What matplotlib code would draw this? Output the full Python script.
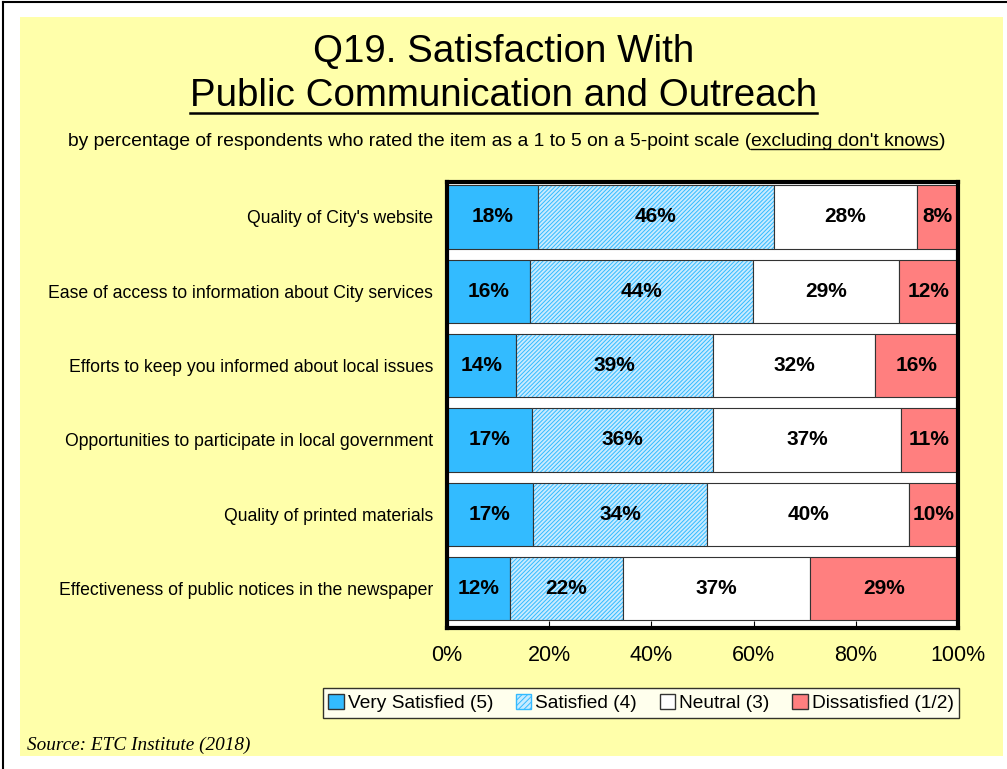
import numpy as np
import matplotlib.pyplot as plt
from matplotlib.patches import Rectangle, Patch

plt.rcParams['font.family'] = ['Liberation Sans', 'DejaVu Sans']

# Datos
items = ["Quality of City's website",
         "Ease of access to information about City services",
         "Efforts to keep you informed about local issues",
         "Opportunities to participate in local government",
         "Quality of printed materials",
         "Effectiveness of public notices in the newspaper"]
very_satisfied = [17.8, 16.2, 13.5, 16.6, 16.8, 12.3]
satisfied = [46.2, 43.6, 38.6, 35.5, 34.1, 22.1]
neutral = [28.0, 28.7, 31.7, 36.7, 39.5, 36.6]
dissatisfied = [8.0, 11.5, 16.2, 11.2, 9.6, 29.0]
labels_vs = [18, 16, 14, 17, 17, 12]
labels_s = [46, 44, 39, 36, 34, 22]
labels_n = [28, 29, 32, 37, 40, 37]
labels_d = [8, 12, 16, 11, 10, 29]
series_names = ['Very Satisfied (5)', 'Satisfied (4)', 'Neutral (3)', 'Dissatisfied (1/2)']

yellow = '#FFFFAA'
blue = '#33BBFF'
light_blue = '#C8EBFF'
red = '#FF7F7F'

fig = plt.figure(figsize=(10.07, 7.69), dpi=100)
fig.patch.set_facecolor('white')

# Fondo amarillo y borde
fig.patches.append(Rectangle((20/1007, 1 - 756/769), 983/1007, 739/769,
                             transform=fig.transFigure, facecolor=yellow,
                             edgecolor='none', zorder=-10))
fig.add_artist(plt.Line2D([3/1007, 3/1007], [0, 1 - 1.5/769], color='black', lw=1.5))
fig.add_artist(plt.Line2D([3/1007, 1], [1 - 1.5/769, 1 - 1.5/769], color='black', lw=1.5))

ax = fig.add_axes([447/1007, 1 - 628/769, 511/1007, 446/769])
ax.set_zorder(5)
ax.set_facecolor('white')

y = np.arange(len(items))
h = 0.85
vs = np.array(very_satisfied)
s = np.array(satisfied)
n = np.array(neutral)
d = np.array(dissatisfied)

plt.rcParams['hatch.linewidth'] = 0.7
ax.barh(y, vs, height=h, color=blue, edgecolor='#333333', lw=0.8)
ax.barh(y, s, left=vs, height=h, color=light_blue, edgecolor=blue, lw=0, hatch='////////')
ax.barh(y, s, left=vs, height=h, color='none', edgecolor='#333333', lw=0.8)
ax.barh(y, n, left=vs + s, height=h, color='white', edgecolor='#333333', lw=0.8)
ax.barh(y, d, left=vs + s + n, height=h, color=red, edgecolor='#333333', lw=0.8)

lefts = [np.zeros(len(items)), vs, vs + s, vs + s + n]
for vals, lab, left in zip([vs, s, n, d], [labels_vs, labels_s, labels_n, labels_d], lefts):
    for i in range(len(items)):
        ax.text(left[i] + vals[i] / 2, y[i], f'{lab[i]}%', ha='center', va='center',
                fontsize=15, fontweight='bold')

ax.set_xlim(0, 100)
ax.set_ylim(len(items) - 0.47, -0.47)
ax.set_xticks([0, 20, 40, 60, 80, 100])
ax.set_xticklabels(['0%', '20%', '40%', '60%', '80%', '100%'], fontsize=15.5)
ax.tick_params(axis='x', direction='in', length=5, pad=12)
ax.set_yticks(y)
ax.set_yticklabels(items, fontsize=12.7)
ax.tick_params(axis='y', length=0, pad=10)
for sp in ax.spines.values():
    sp.set_linewidth(3)
    sp.set_color('black')

# Títulos
fig.text(0.5, 1 - 52/769, 'Q19. Satisfaction With', ha='center', va='center', fontsize=27.7)
t2 = fig.text(0.5, 1 - 96/769, 'Public Communication and Outreach', ha='center',
              va='center', fontsize=27.7)
sub1 = fig.text(68/1007, 1 - 142/769,
                'by percentage of respondents who rated the item as a 1 to 5 on a 5-point scale (',
                ha='left', va='center', fontsize=13.9)
fig.canvas.draw()
r = fig.canvas.get_renderer()
bb1 = sub1.get_window_extent(r)
sub2 = fig.text(bb1.x1 / fig.bbox.width, 1 - 142/769, "excluding don't knows",
                ha='left', va='center', fontsize=13.9)
bb2 = sub2.get_window_extent(r)
fig.text(bb2.x1 / fig.bbox.width, 1 - 142/769, ')', ha='left', va='center', fontsize=13.9)

def underline(bb, yoff, lw):
    yy = (bb.y0 + yoff) / fig.bbox.height
    fig.add_artist(plt.Line2D([bb.x0 / fig.bbox.width, bb.x1 / fig.bbox.width], [yy, yy],
                              color='black', lw=lw))

underline(t2.get_window_extent(r), 1, 1.8)
underline(bb2, 2, 1)

# Leyenda
handles = [Patch(facecolor=blue, edgecolor='#333333'),
           Patch(facecolor=light_blue, edgecolor=blue, hatch='//////'),
           Patch(facecolor='white', edgecolor='#333333'),
           Patch(facecolor=red, edgecolor='#333333')]
leg = fig.legend(handles, series_names, loc='center', ncol=4,
                 bbox_to_anchor=(641/1007, 1 - 703/769), fontsize=13.8, frameon=True,
                 fancybox=False, edgecolor='black', handlelength=0.8, handleheight=0.8,
                 handletextpad=0.2, columnspacing=1.2, borderpad=0.3)
leg.get_frame().set_linewidth(1)
leg.get_frame().set_facecolor('white')

fig.text(27/1007, 1 - 745/769, 'Source: ETC Institute (2018)', ha='left', va='center',
         fontsize=13.9, style='italic', family=['Liberation Serif', 'DejaVu Serif'])

fig.savefig('out.png', dpi=100, facecolor=fig.get_facecolor())
